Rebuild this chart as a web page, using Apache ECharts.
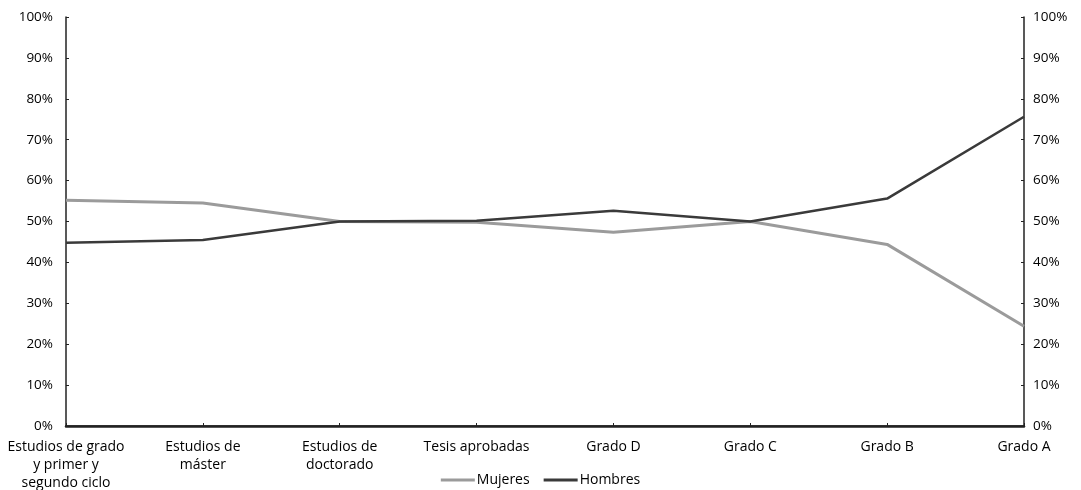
<!DOCTYPE html>
<html>
<head>
<meta charset="utf-8">
<script src="https://cdn.jsdelivr.net/npm/echarts@6/dist/echarts.min.js"></script>
<style>
  html, body { margin: 0; padding: 0; background: #fff; }
  #chart { width: 1081px; height: 490px; }
</style>
</head>
<body>
<div id="chart"></div>
<script>
// categorías del eje X
const categorias = [
    'Estudios de grado\ny primer y\nsegundo ciclo',
    'Estudios de\nmáster',
    'Estudios de\ndoctorado',
    'Tesis aprobadas',
    'Grado D',
    'Grado C',
    'Grado B',
    'Grado A'
];

// porcentajes
const mujeres = [55.2, 54.5, 50.0, 49.8, 47.4, 50.0, 44.4, 24.4];
const hombres = [44.8, 45.5, 50.0, 50.2, 52.6, 50.0, 55.6, 75.6];

const colores = {
    mujeres: '#9b9b9b',
    hombres: '#3a3a3a',
    eje: '#222'
};

const fuente = 'Open Sans';

const chart = echarts.init(document.getElementById('chart'));

const ejeY = function(pos) {
    return {
        type: 'value',
        position: pos,
        min: 0,
        max: 100,
        interval: 10,
        axisLine: { show: true, lineStyle: { color: colores.eje, width: 1.5 } },
        axisTick: { show: true, inside: true, length: 3, lineStyle: { color: colores.eje } },
        splitLine: { show: false },
        axisLabel: {
            formatter: '{value}%',
            color: '#000',
            fontFamily: fuente,
            fontSize: 13.5,
            fontWeight: 500,
            margin: pos === 'left' ? 13 : 9
        }
    };
};

const option = {
    animation: false,
    grid: { left: 66, right: 57, top: 17, bottom: 64, outerBoundsMode: 'none', containLabel: false },
    legend: {
        bottom: -2,
        left: 'center',
        itemWidth: 34,
        itemHeight: 3,
        itemGap: 14,
        icon: 'rect',
        textStyle: { fontFamily: fuente, fontSize: 14, fontWeight: 500, color: '#000', padding: [0, 0, 0, -3] },
        data: ['Mujeres', 'Hombres']
    },
    xAxis: [{
        type: 'category',
        boundaryGap: false,
        data: categorias,
        axisLine: { show: true, lineStyle: { color: colores.eje, width: 1.5 } },
        axisTick: { show: true, inside: true, length: 3, lineStyle: { color: colores.eje } },
        axisLabel: {
            color: '#000',
            fontFamily: fuente,
            fontSize: 14,
            fontWeight: 500,
            lineHeight: 18,
            margin: 12,
            interval: 0
        }
    }, {
        type: 'category',
        position: 'top',
        boundaryGap: false,
        data: categorias,
        axisLine: { show: true, lineStyle: { color: colores.eje, width: 2.5 } },
        axisTick: { show: false },
        axisLabel: { show: false }
    }],
    yAxis: [ejeY('left'), ejeY('right')],
    series: [
        {
            name: 'Mujeres',
            type: 'line',
            data: mujeres,
            symbol: 'none',
            lineStyle: { color: colores.mujeres, width: 3 },
            itemStyle: { color: colores.mujeres }
        },
        {
            name: 'Hombres',
            type: 'line',
            data: hombres,
            symbol: 'none',
            lineStyle: { color: colores.hombres, width: 2.5 },
            itemStyle: { color: colores.hombres }
        }
    ]
};

chart.setOption(option);
</script>
</body>
</html>
